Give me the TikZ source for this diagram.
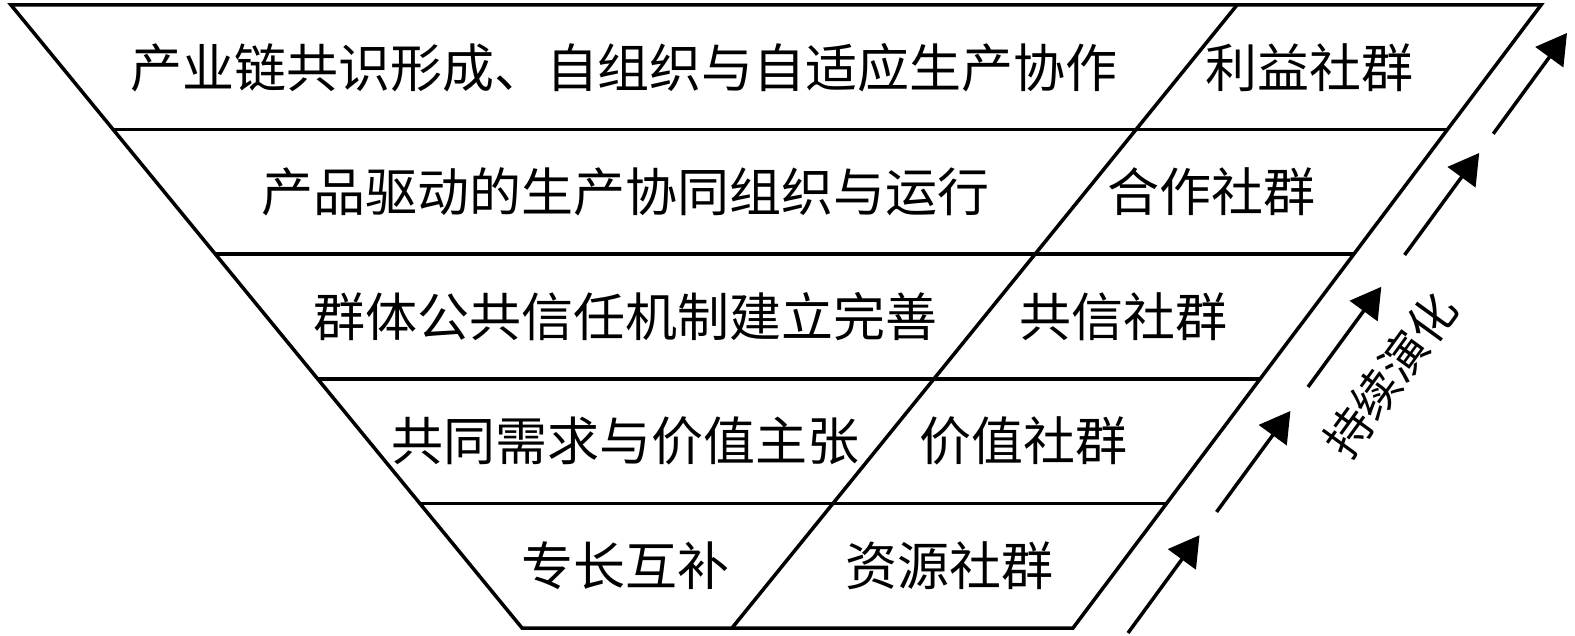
\documentclass[tikz,border=0pt]{standalone}
\usepackage{fontspec}
\newfontfamily\cjk{Noto Sans CJK SC}
\usetikzlibrary{arrows.meta,calc}
\begin{document}
\begin{tikzpicture}[x=1pt,y=-1pt,
  edge/.style={line width=3.5pt,line join=miter},
  lbl/.style={font=\cjk\fontsize{52}{62}\selectfont,inner sep=0pt,anchor=center},
  evo/.style={line width=3.5pt,-{Triangle[length=30pt,width=34pt]}}]
\useasboundingbox (0,0) rectangle (1575,636);
\coordinate (TL) at (11,5);
\coordinate (TR) at (1541,5);
\coordinate (BL) at (522,628);
\coordinate (BR) at (1073,628);
\coordinate (DT) at (1237,5);
\coordinate (DB) at (732,628);
% outline
\draw[edge] (TL) -- (TR) -- (BR) -- (BL) -- cycle;
% horizontal dividers
\foreach \k in {1,2,3,4}{
  \draw[edge] ($(TL)!\k/5!(BL)$) -- ($(TR)!\k/5!(BR)$);
}
% diagonal divider
\draw[edge] (DT) -- (DB);
% texts
\node[lbl] (l1) at (624,68) {产业链共识形成、自组织与自适应生产协作};
\node[lbl] (r1) at (1309,68) {利益社群};
\node[lbl] (l2) at (625,192) {产品驱动的生产协同组织与运行};
\node[lbl] (r2) at (1211,192) {合作社群};
\node[lbl] (l3) at (625,317) {群体公共信任机制建立完善};
\node[lbl] (r3) at (1123,317) {共信社群};
\node[lbl] (l4) at (625,441) {共同需求与价值主张};
\node[lbl] (r4) at (1023,441) {价值社群};
\node[lbl] (l5) at (625,566) {专长互补};
\node[lbl] (r5) at (949,566) {资源社群};
% evolution arrows
\coordinate (A) at (1128,633);
\coordinate (B) at (1567,33);
\coordinate (s1) at ($(A)!0!(B)$);     \coordinate (t1) at ($(A)!0.163!(B)$);
\coordinate (s2) at ($(A)!0.2017!(B)$); \coordinate (t2) at ($(A)!0.37!(B)$);
\coordinate (s3) at ($(A)!0.41!(B)$);   \coordinate (t3) at ($(A)!0.577!(B)$);
\coordinate (s4) at ($(A)!0.63!(B)$);   \coordinate (t4) at ($(A)!0.80!(B)$);
\coordinate (s5) at ($(A)!0.832!(B)$);  \coordinate (t5) at ($(A)!1!(B)$);
\foreach \i in {1,...,5}{ \draw[evo] (s\i) -- (t\i); }
\node[font=\cjk\fontsize{47}{56}\selectfont,inner sep=0pt,rotate=54] (evt) at (1390,375) {持续演化};
\end{tikzpicture}
\end{document}
